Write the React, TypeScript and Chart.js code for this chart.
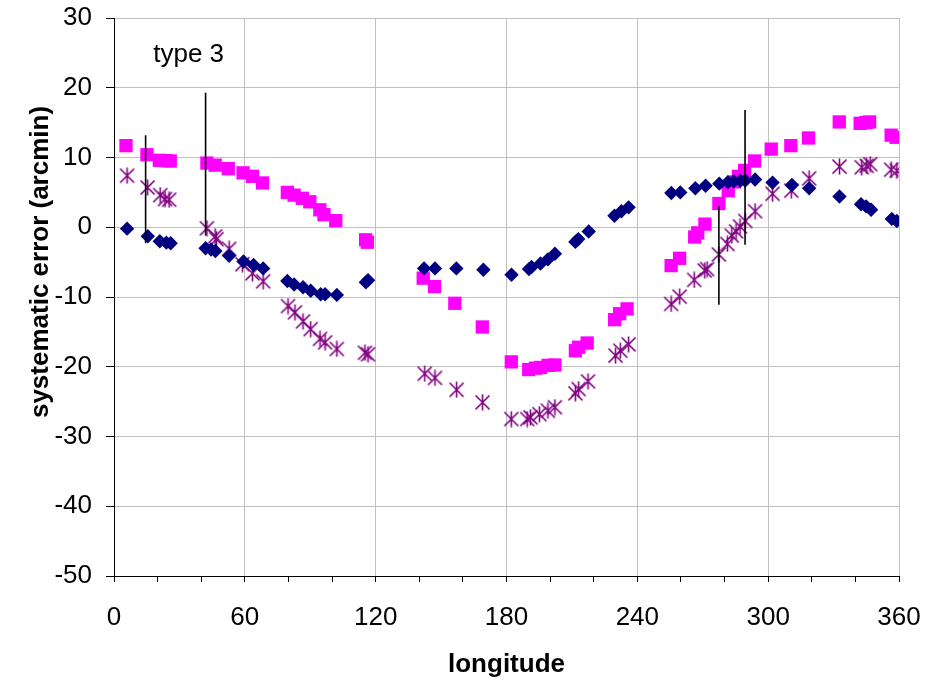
import React, { useEffect, useRef } from "react";
import { Chart, registerables } from "chart.js";

Chart.register(...registerables);

// ---- data ----
const navyX = [6, 15.5, 21, 24, 26, 42, 44.5, 46.5, 52.8, 59.4, 64, 68.4, 79.5, 82.6, 86.7, 90.2, 94.8, 96.8, 102.2, 115.5, 116.5, 142.2, 147.2, 157, 169.4, 182.3, 190.3, 191.5, 195.6, 199, 202.2, 211.6, 212.9, 217.7, 229.5, 232.7, 236, 255.6, 259.7, 266.6, 271.3, 277.6, 281.5, 284.2, 287.2, 289.5, 294, 302, 310.9, 318.8, 332.7, 342.6, 344.9, 347.2, 356.7, 359];
const navyY = [-0.2, -1.3, -2.0, -2.2, -2.3, -3.0, -3.2, -3.4, -4.1, -4.9, -5.4, -5.9, -7.7, -8.2, -8.6, -9.1, -9.6, -9.6, -9.7, -7.9, -7.6, -5.9, -5.9, -5.9, -6.1, -6.8, -6.0, -5.7, -5.2, -4.6, -3.8, -2.1, -1.7, -0.6, 1.65, 2.3, 2.85, 4.9, 5.0, 5.6, 5.95, 6.25, 6.45, 6.6, 6.65, 6.7, 6.85, 6.4, 6.05, 5.6, 4.4, 3.3, 3.0, 2.5, 1.2, 0.9];

const magentaX = [5.5, 15.1, 20.8, 23.8, 25.8, 42.6, 46.4, 52.4, 59.2, 63.5, 68.1, 79.5, 82.6, 86.4, 89.8, 94.4, 96.3, 101.7, 115.4, 116.2, 141.8, 147, 156.3, 168.9, 182.2, 190.2, 193.3, 195.6, 199.1, 202.2, 211.6, 213.1, 217, 229.6, 231.9, 235.3, 255.5, 259.4, 266.3, 267.7, 271, 277.4, 281.7, 284.5, 286.4, 289.2, 293.8, 301.4, 310.4, 318.5, 332.6, 342.2, 344.9, 346.5, 356.4, 358.7];
const magentaY = [11.7, 10.4, 9.6, 9.55, 9.5, 9.2, 8.9, 8.4, 7.8, 7.3, 6.35, 5.0, 4.6, 4.15, 3.65, 2.5, 1.8, 0.95, -1.8, -2.15, -7.3, -8.5, -10.9, -14.3, -19.3, -20.4, -20.2, -20.1, -19.8, -19.75, -17.7, -17.2, -16.6, -13.25, -12.4, -11.7, -5.5, -4.45, -1.4, -0.8, 0.45, 3.4, 5.25, 6.5, 7.3, 8.15, 9.5, 11.2, 11.7, 12.8, 15.1, 14.9, 15.0, 15.1, 13.2, 12.9];

const purpleX = [6, 15.4, 21.2, 23.4, 25.3, 42.6, 46.4, 47, 52.8, 58.9, 63.5, 68.4, 79.8, 83, 86.7, 90.2, 94.5, 96.8, 102.2, 115.1, 116.5, 142.5, 147.2, 157.1, 169, 182.2, 189.5, 191, 195.1, 199, 202.2, 211.6, 213.1, 217.4, 230, 232.2, 236, 255.5, 259.4, 266.1, 270.9, 272, 277.4, 281.3, 283.3, 285.3, 287.1, 289.5, 294, 302, 310.6, 318.8, 332.7, 342.9, 345.2, 346.8, 356.4, 359];
const purpleY = [7.4, 5.7, 4.6, 4.05, 3.95, -0.15, -1.3, -1.7, -3.1, -5.3, -6.6, -7.75, -11.3, -12.2, -13.5, -14.6, -16.0, -16.5, -17.45, -18.0, -18.2, -21.0, -21.6, -23.3, -25.1, -27.5, -27.5, -27.25, -26.8, -26.3, -25.8, -23.8, -23.2, -22.1, -18.4, -17.7, -16.8, -11.0, -9.95, -7.55, -6.2, -6.0, -3.9, -2.4, -1.2, -0.6, 0.1, 0.9, 2.3, 4.8, 5.25, 7.0, 8.7, 8.6, 8.8, 9.05, 8.25, 8.1];

const errorBarX = [14.5, 42, 277.4, 289.4];
const errorBarHigh = [13.2, 19.3, 3.0, 16.8];
const errorBarLow = [-2.3, -1.2, -11.1, -2.5];

const xTickValues = [0, 60, 120, 180, 240, 300, 360];
const xTitle = "longitude";
const yTitle = "systematic error (arcmin)";
const noteText = "type 3";
const noteX = 18;
const noteY = 23.7;

const FONT = '"Liberation Sans", Arial, Helvetica, sans-serif';

function makeAsterisk(color: string): HTMLCanvasElement {
  const c = document.createElement("canvas");
  c.width = 17;
  c.height = 17;
  const ctx = c.getContext("2d")!;
  ctx.strokeStyle = color;
  ctx.lineWidth = 1.6;
  const m = 8.5;
  ctx.beginPath();
  ctx.moveTo(m, 0.5);
  ctx.lineTo(m, 16.5);
  ctx.moveTo(m - 7, m - 7);
  ctx.lineTo(m + 7, m + 7);
  ctx.moveTo(m + 7, m - 7);
  ctx.lineTo(m - 7, m + 7);
  ctx.stroke();
  return c;
}

const textPlugin = {
  id: "extraTexts",
  afterDraw(chart: any) {
    const { ctx, scales, chartArea } = chart;
    ctx.save();
    ctx.fillStyle = "#000";
    ctx.font = `bold 26px ${FONT}`;
    ctx.textAlign = "center";
    ctx.textBaseline = "alphabetic";
    ctx.fillText(xTitle, (chartArea.left + chartArea.right) / 2, 672);
    ctx.save();
    ctx.translate(48, 262);
    ctx.rotate(-Math.PI / 2);
    ctx.fillText(yTitle, 0, 0);
    ctx.restore();
    ctx.font = `26px ${FONT}`;
    ctx.textAlign = "left";
    ctx.fillText(noteText, scales.x.getPixelForValue(noteX), scales.y.getPixelForValue(noteY));
    ctx.restore();
  },
};

export default function App() {
  const ref = useRef<HTMLCanvasElement | null>(null);
  useEffect(() => {
    document.body.style.margin = "0";
    const canvas = ref.current!;
    const star = makeAsterisk("#800080");
    const errorSets = errorBarX.map((x, i) => ({
      label: "err" + i,
      data: [
        { x, y: errorBarHigh[i] },
        { x, y: errorBarLow[i] },
      ],
      showLine: true,
      borderColor: "#000",
      borderWidth: 1.6,
      pointRadius: 0,
    }));
    const chart = new Chart(canvas, {
      type: "scatter",
      data: {
        datasets: [
          ...errorSets,
          {
            label: "A",
            data: navyX.map((x, i) => ({ x, y: navyY[i] })),
            pointStyle: "rectRot",
            pointRadius: 7.2,
            pointBorderWidth: 0,
            backgroundColor: "#000080",
            borderColor: "#000080",
          },
          {
            label: "C",
            data: purpleX.map((x, i) => ({ x, y: purpleY[i] })),
            pointStyle: star as any,
            pointRadius: 8,
            backgroundColor: "#800080",
            borderColor: "#800080",
          },
          {
            label: "B",
            data: magentaX.map((x, i) => ({ x, y: magentaY[i] })),
            pointStyle: "rect",
            pointRadius: 9.4,
            pointBorderWidth: 0,
            backgroundColor: "#FF00FF",
            borderColor: "#FF00FF",
          },
        ] as any,
      },
      options: {
        responsive: false,
        animation: false,
        events: [],
        layout: { padding: { top: 18, right: 28, left: 0, bottom: 0 } },
        plugins: { legend: { display: false }, tooltip: { enabled: false } },
        scales: {
          x: {
            type: "linear",
            min: 0,
            max: 360,
            afterFit: (s: any) => {
              s.height = 110;
              s.paddingLeft = 0;
              s.paddingRight = 0;
            },
            ticks: {
              stepSize: 20,
              autoSkip: false,
              maxRotation: 0,
              color: "#000",
              padding: 20,
              font: { family: FONT, size: 26 },
              callback: (v: any) => (xTickValues.includes(Number(v)) ? String(v) : ""),
            },
            grid: {
              color: (c: any) => (c.tick && xTickValues.includes(c.tick.value) ? "#c0c0c0" : "rgba(0,0,0,0)"),
              tickColor: "#000",
              tickLength: 6,
              lineWidth: 1,
            },
            border: { color: "#000", width: 1 },
          },
          y: {
            type: "linear",
            min: -50,
            max: 30,
            afterFit: (s: any) => {
              s.width = 114;
              s.paddingTop = 0;
              s.paddingBottom = 0;
            },
            ticks: {
              stepSize: 10,
              color: "#000",
              padding: 14,
              font: { family: FONT, size: 26 },
            },
            grid: { color: "#c0c0c0", tickColor: "#000", tickLength: 8, lineWidth: 1 },
            border: { color: "#000", width: 1 },
          },
        },
      },
      plugins: [textPlugin],
    });
    return () => chart.destroy();
  }, []);
  return (
    <div style={{ width: 927, height: 686 }}>
      <canvas ref={ref} width={927} height={686} style={{ display: "block" }} />
    </div>
  );
}
